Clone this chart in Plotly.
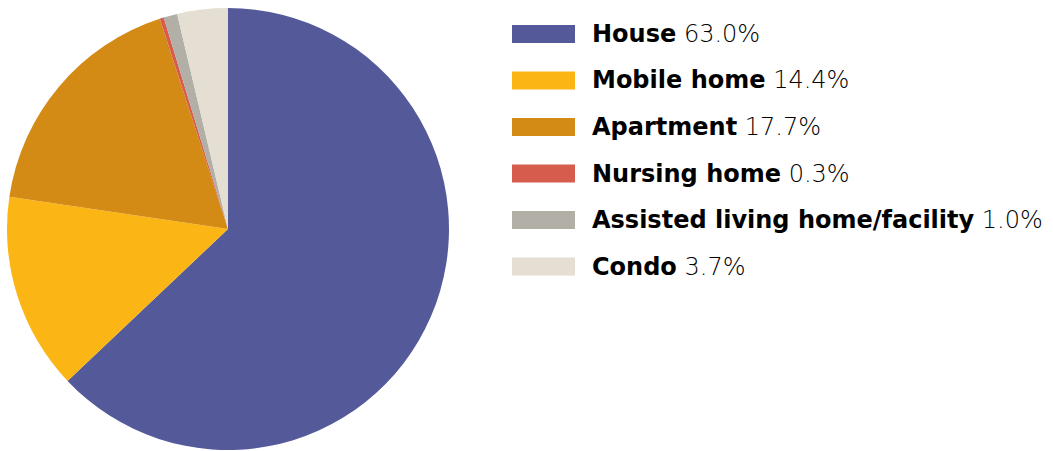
import plotly.graph_objects as go

# Housing type shares (percent)
categories = ["House", "Mobile home", "Apartment", "Nursing home",
              "Assisted living home/facility", "Condo"]
shares = [63.0, 14.4, 17.7, 0.3, 1.0, 3.7]
colors = ["#545a99", "#fbb615", "#d48b15", "#d65c4d", "#b1afa6", "#e4ded3"]

W, H = 1053, 451

fig = go.Figure(go.Pie(
    labels=categories,
    values=shares,
    marker=dict(colors=colors, line=dict(width=0)),
    sort=False,
    direction="clockwise",
    rotation=0,
    textinfo="none",
    hoverinfo="label+percent",
    showlegend=False,
    domain=dict(x=[7 / W, 449 / W], y=[1 / H, 443 / H]),
))

# Custom legend: wide colour swatch with bold label and light percentage
row_top = 34
row_step = 46.5
sw_x0, sw_x1, sw_h = 512, 575, 18
text_x = 590

label_style = "font-family:'DejaVu Sans';font-weight:bold"
value_style = "font-family:'DejaVu Sans';font-weight:200"

shapes = []
annotations = []
for i, (cat, val, col) in enumerate(zip(categories, shares, colors)):
    yc = row_top + i * row_step
    shapes.append(dict(
        type="rect", xref="paper", yref="paper",
        x0=sw_x0 / W, x1=sw_x1 / W,
        y0=1 - (yc - sw_h / 2) / H, y1=1 - (yc + sw_h / 2) / H,
        fillcolor=col, line=dict(width=0),
    ))
    annotations.append(dict(
        xref="paper", yref="paper",
        x=text_x / W, y=1 - yc / H,
        xanchor="left", yanchor="middle",
        text=(f"<span style=\"{label_style}\">{cat}</span> "
              f"<span style=\"{value_style}\">{val:.1f}%</span>"),
        showarrow=False,
        font=dict(family="DejaVu Sans", size=24, color="#000000"),
    ))

fig.update_layout(
    width=W, height=H,
    margin=dict(l=0, r=0, t=0, b=0),
    paper_bgcolor="white",
    plot_bgcolor="white",
    shapes=shapes,
    annotations=annotations,
)

fig.write_html("out.html")
